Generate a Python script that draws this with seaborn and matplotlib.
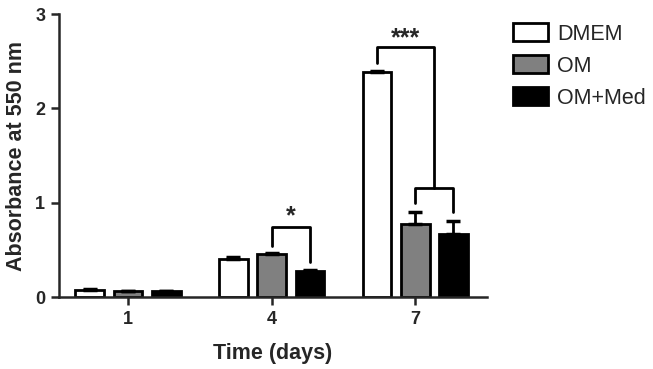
import numpy as np
import pandas as pd
import matplotlib
matplotlib.use('Agg')
import matplotlib.pyplot as plt
import seaborn as sns

# Werte
days = ['1', '4', '7']
media = ['DMEM', 'OM', 'OM+Med']
dmem = [0.07, 0.40, 2.39]
om = [0.06, 0.46, 0.77]
om_med = [0.06, 0.28, 0.67]
dmem_err = [0.01, 0.02, 0.01]
om_err = [0.005, 0.01, 0.13]
om_med_err = [0.005, 0.01, 0.14]

df = pd.DataFrame({
    'day': np.repeat(days, 3),
    'medium': media * 3,
    'value': [v for trio in zip(dmem, om, om_med) for v in trio],
})
errors = {'DMEM': dmem_err, 'OM': om_err, 'OM+Med': om_med_err}

sns.set_style('ticks')
plt.rcParams['font.family'] = ['Liberation Sans', 'DejaVu Sans']

fig = plt.figure(figsize=(6.53, 3.69), dpi=100)
ax = fig.add_axes([0.0904, 0.195, 0.6554, 0.767])

sns.barplot(data=df, x='day', y='value', hue='medium', hue_order=media,
            palette=['white', '#808080', 'black'], edgecolor='black',
            linewidth=2, width=0.8, gap=0.25, errorbar=None, ax=ax)

# Fehlerbalken (nur nach oben) und Balkenmitten merken
centers = {}
for name, cont in zip(media, ax.containers):
    xs = [b.get_x() + b.get_width() / 2 for b in cont]
    hs = [b.get_height() for b in cont]
    centers[name] = xs
    ax.errorbar(xs, hs, yerr=[np.zeros(3), errors[name]], fmt='none',
                ecolor='black', elinewidth=2, capsize=5, capthick=2.5, zorder=1)

# Signifikanz-Klammern
lw = 2
x1, x2 = centers['OM'][1], centers['OM+Med'][1]
ax.plot([x1, x1, x2, x2], [0.54, 0.74, 0.74, 0.37], color='black', lw=lw)
ax.text((x1 + x2) / 2, 0.73, '*', ha='center', va='bottom', fontsize=18, fontweight='bold')

a = centers['DMEM'][2]
b1, b2 = centers['OM'][2], centers['OM+Med'][2]
mid = (b1 + b2) / 2
ax.plot([b1, b1, b2, b2], [1.0, 1.16, 1.16, 0.9], color='black', lw=lw)
ax.plot([a, a, mid, mid], [2.48, 2.65, 2.65, 1.16], color='black', lw=lw)
ax.text((a + mid) / 2, 2.62, '***', ha='center', va='bottom', fontsize=18, fontweight='bold')

ax.set_xlim(-0.48, 2.5)
ax.set_ylim(0, 3)
ax.set_yticks([0, 1, 2, 3])
sns.despine(ax=ax)
for s in ['left', 'bottom']:
    ax.spines[s].set_linewidth(1.8)
ax.tick_params(direction='out', length=6, width=1.8, labelsize=13, pad=4)
for lab in ax.get_xticklabels() + ax.get_yticklabels():
    lab.set_fontweight('bold')
ax.set_xlabel('Time (days)', fontsize=15.5, fontweight='bold', labelpad=11)
ax.set_ylabel('Absorbance at 550 nm', fontsize=15.5, fontweight='bold', labelpad=6)

sns.move_legend(ax, 'upper left', bbox_to_anchor=(0.786, 0.937),
                bbox_transform=fig.transFigure, frameon=False, title=None,
                fontsize=15.5, handlelength=1.6, handleheight=0.9,
                labelspacing=0.5, handletextpad=0.45, borderpad=0, borderaxespad=0)

fig.savefig('out.png', dpi=100)
